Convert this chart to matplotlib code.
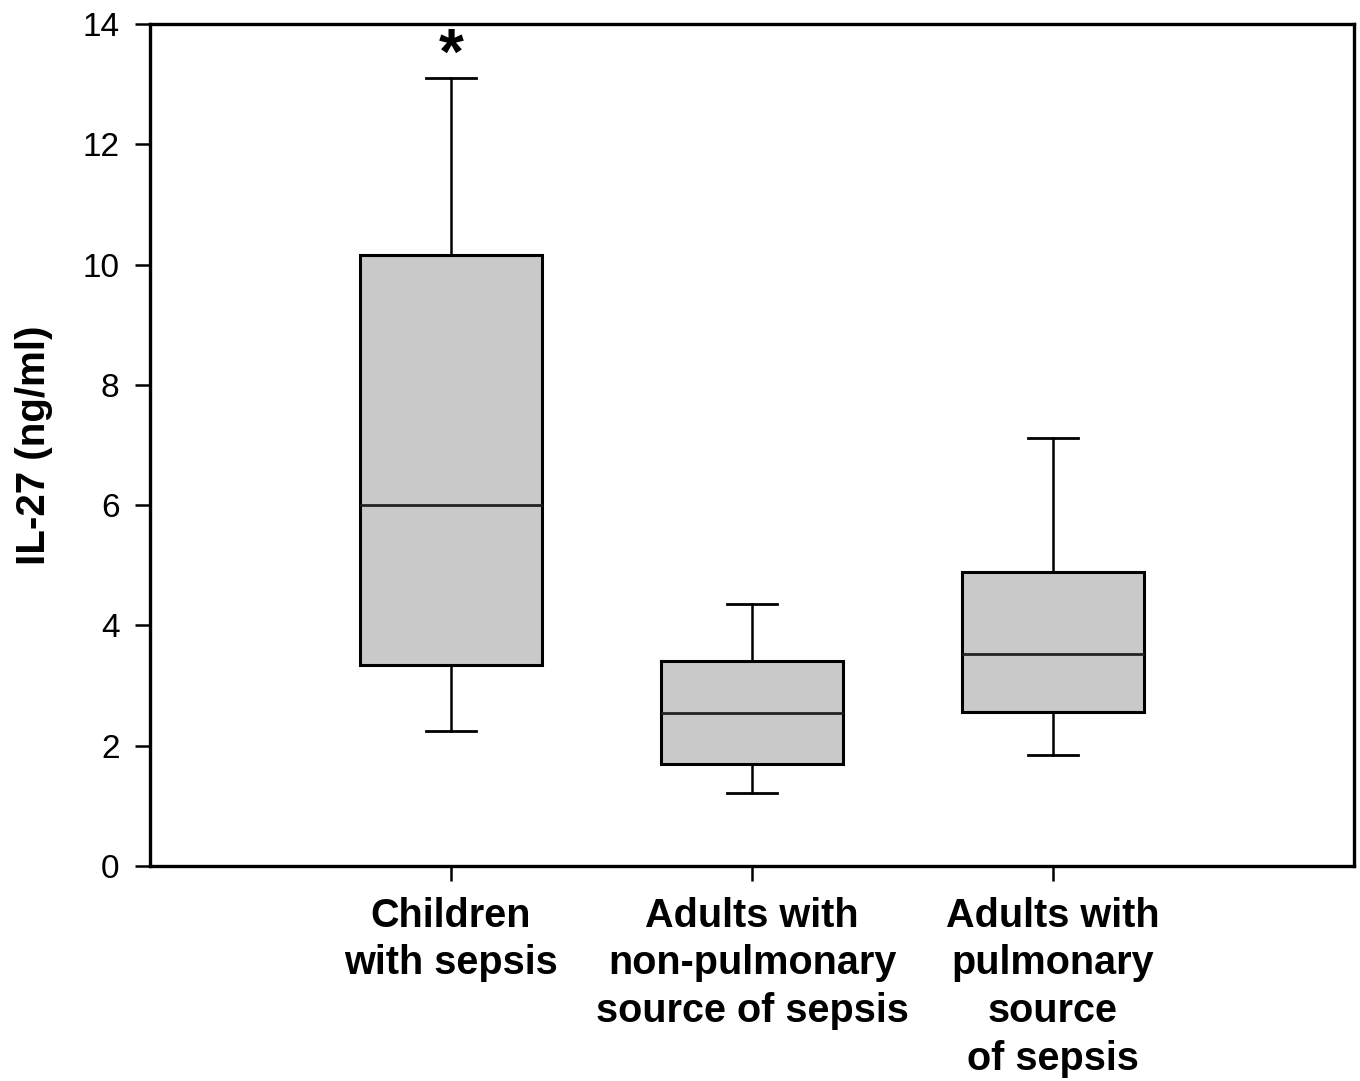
import matplotlib
matplotlib.use('Agg')
import matplotlib.pyplot as plt

plt.rcParams['font.family'] = ['Liberation Sans', 'DejaVu Sans']

# Box statistics (ng/ml)
groups = ['Children\nwith sepsis',
          'Adults with\nnon-pulmonary\nsource of sepsis',
          'Adults with\npulmonary\nsource\nof sepsis']
whislo = [2.24, 1.21, 1.85]
q1 = [3.34, 1.70, 2.56]
med = [6.0, 2.54, 3.53]
q3 = [10.16, 3.41, 4.89]
whishi = [13.1, 4.36, 7.12]
signif = ['*', '', '']

stats = []
for i in range(len(groups)):
    stats.append({'whislo': whislo[i], 'q1': q1[i], 'med': med[i],
                  'q3': q3[i], 'whishi': whishi[i], 'fliers': []})

fig = plt.figure(figsize=(13.6, 10.81), dpi=100)
ax = fig.add_axes([0.1103, 0.1989, 0.8853, 0.7789])

pos = [1, 2, 3]
ax.bxp(stats, positions=pos, widths=0.605, capwidths=0.165, patch_artist=True,
       showfliers=False,
       boxprops=dict(facecolor='#c9c9c9', edgecolor='black', linewidth=2.2),
       medianprops=dict(color='#222222', linewidth=2),
       whiskerprops=dict(color='black', linewidth=1.8),
       capprops=dict(color='black', linewidth=2))

for p, s, top in zip(pos, signif, whishi):
    if s:
        ax.annotate(s, (p, top), xytext=(0, -6), textcoords='offset points',
                    ha='center', va='bottom', fontsize=46, fontweight='bold')

ax.set_xlim(0, 4)
ax.set_ylim(0, 14)
ax.set_yticks(range(0, 15, 2))
ax.set_xticks(pos)
ax.set_xticklabels(groups, fontsize=28.5, fontweight='bold', linespacing=1.33)
ax.tick_params(axis='y', labelsize=24, length=11, width=1.8, direction='out', pad=11)
ax.tick_params(axis='x', length=11, width=1.8, direction='out', pad=11)
ax.set_ylabel('IL-27 (ng/ml)', fontsize=29, fontweight='bold', labelpad=21)
for sp in ax.spines.values():
    sp.set_linewidth(2.4)

plt.savefig('out.png', dpi=100)
